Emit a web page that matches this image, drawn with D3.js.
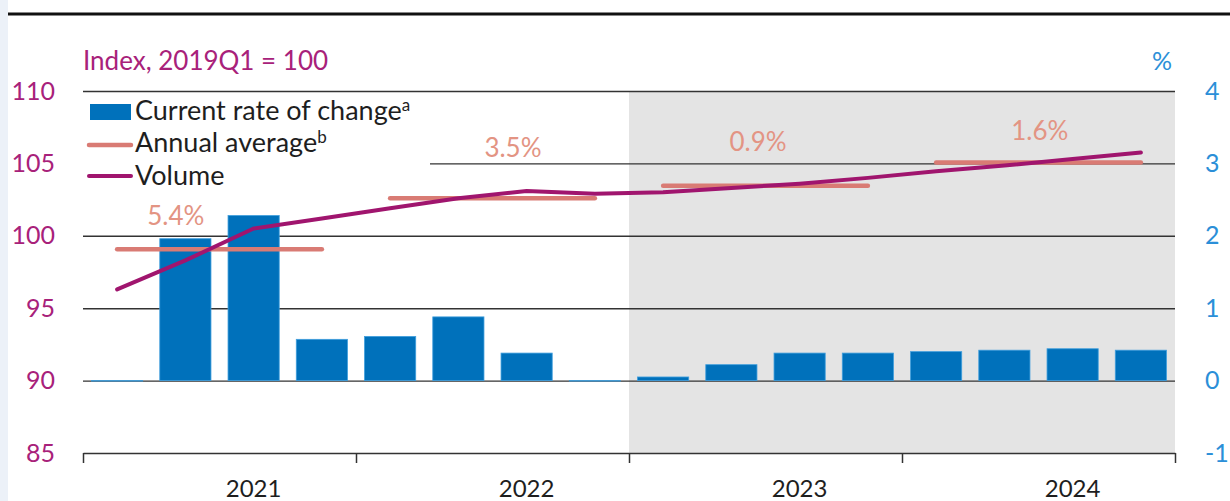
<!DOCTYPE html>
<html>
<head>
<meta charset="utf-8">
<script src="https://cdn.jsdelivr.net/npm/d3@7"></script>
<style>
  html, body { margin: 0; padding: 0; background: #fff; }
  svg { display: block; font-family: Lato, "Open Sans", sans-serif; }
</style>
</head>
<body>
<svg id="chart" width="1230" height="501"></svg>
<script>
// Quarterly series
const quarters = ["2021Q1","2021Q2","2021Q3","2021Q4",
                  "2022Q1","2022Q2","2022Q3","2022Q4",
                  "2023Q1","2023Q2","2023Q3","2023Q4",
                  "2024Q1","2024Q2","2024Q3","2024Q4"];
// Current rate of change, % (right axis)
const growth = [0.0, 1.96, 2.28, 0.57, 0.61, 0.88, 0.38, 0.0,
                0.05, 0.22, 0.38, 0.38, 0.40, 0.42, 0.44, 0.42];
// Volume index, 2019Q1 = 100 (left axis)
const volume = [96.3, 98.3, 100.5, 101.2, 101.9, 102.6, 103.1, 102.9,
                103.0, 103.3, 103.6, 104.0, 104.45, 104.85, 105.3, 105.75];

// Annual figures
const years = ["2021","2022","2023","2024"];
const annualAverage = [99.07, 102.6, 103.45, 105.06];
const annualGrowthLabels = ["5.4%","3.5%","0.9%","1.6%"];

// Axis ticks
const leftTicks = [85, 90, 95, 100, 105, 110];
const rightTicks = [-1, 0, 1, 2, 3, 4];
const forecastFrom = "2023Q1";

// Where each annual growth label sits: [quarter position, index level]
const growthLabelAnchor = [[1.36, 100.75], [6.3, 105.45], [9.89, 105.85], [14.02, 106.6]];

const C = {
  bar: "#0071bb", barEdge: "#3f9edd",
  volume: "#a0156e", avg: "#d97b74", avgText: "#e39483",
  left: "#a8217a", right: "#2b8fd8", grid: "#333333",
  shade: "#e4e4e4", text: "#1e1e1e"
};

const svg = d3.select("#chart");
const X0 = 83, X1 = 1175, YT = 91, YB = 453;

const xBand = d3.scaleBand().domain(quarters).range([X0, X1])
  .paddingInner(0.25).paddingOuter(0.125);
const xQ = d3.scaleLinear().domain([0, quarters.length]).range([X0, X1]);
const xMid = q => xBand(q) + xBand.bandwidth() / 2;
const yL = d3.scaleLinear().domain([85, 110]).range([YB, YT]);
const yR = d3.scaleLinear().domain([-1, 4]).range([YB, YT]);

// page furniture: left strip and top rule
svg.append("rect").attr("x", 0).attr("y", 0).attr("width", 8).attr("height", 501).attr("fill", "#ecf1f8");
svg.append("line").attr("x1", 8).attr("x2", 1230).attr("y1", 14).attr("y2", 14)
  .attr("stroke", "#111").attr("stroke-width", 3);

// forecast shading
const fi = quarters.indexOf(forecastFrom);
svg.append("rect")
  .attr("x", xQ(fi)).attr("y", yL(110))
  .attr("width", xQ(quarters.length) - xQ(fi))
  .attr("height", yL(85) - yL(110))
  .attr("fill", C.shade);

// gridlines
svg.append("g").attr("transform", `translate(${X0},0)`)
  .call(d3.axisLeft(yL).tickValues(leftTicks.filter(v => v > 85)).tickSize(-(X1 - X0)).tickFormat(""))
  .call(g => g.select(".domain").remove())
  .selectAll("line").attr("stroke", C.grid).attr("stroke-width", 1.4);

// legend backing
svg.append("rect").attr("x", X0).attr("y", 95).attr("width", 347).attr("height", 100).attr("fill", "#fff");

// x axis
svg.append("g").attr("transform", `translate(0,${YB})`)
  .call(d3.axisBottom(xQ).tickValues(d3.range(0, quarters.length + 1, 4)).tickSize(10).tickSizeOuter(0).tickFormat(""))
  .call(g => g.selectAll("path,line").attr("stroke", C.grid).attr("stroke-width", 1.5));

svg.append("g").selectAll("text").data(years).join("text")
  .attr("x", (d, i) => xQ(i * 4 + 2.5)).attr("y", 497)
  .attr("text-anchor", "middle").attr("font-size", 24).attr("fill", C.text)
  .text(d => d);

// left axis labels
svg.append("g").attr("transform", `translate(${X0},0)`)
  .call(d3.axisLeft(yL).tickValues(leftTicks).tickSize(0).tickPadding(28).tickFormat(d => String(d)))
  .call(g => g.select(".domain").remove())
  .call(g => g.attr("font-family", null).attr("font-size", 25))
  .selectAll("text").attr("fill", C.left);

// right axis labels
svg.append("g").attr("transform", `translate(${X1},0)`)
  .call(d3.axisRight(yR).tickValues(rightTicks).tickSize(0).tickPadding(30).tickFormat(d => String(d)))
  .call(g => g.select(".domain").remove())
  .call(g => g.attr("font-family", null).attr("font-size", 25))
  .selectAll("text").attr("fill", C.right);

svg.append("text").attr("x", X0).attr("y", 70).attr("font-size", 26).attr("fill", C.left)
  .text("Index, 2019Q1 = 100");
svg.append("text").attr("x", 1172).attr("y", 70).attr("text-anchor", "end")
  .attr("font-size", 25).attr("fill", C.right).text("%");

// bars: current rate of change
svg.append("g").selectAll("rect").data(growth).join("rect")
  .attr("x", (d, i) => xBand(quarters[i]))
  .attr("width", xBand.bandwidth())
  .attr("y", d => yR(Math.max(d, 0)))
  .attr("height", d => Math.max(0.5, Math.abs(yR(d) - yR(0))))
  .attr("fill", C.bar).attr("stroke", C.barEdge).attr("stroke-width", 0.8);

// annual averages
svg.append("g").selectAll("line").data(annualAverage).join("line")
  .attr("x1", (d, i) => xMid(quarters[i * 4]))
  .attr("x2", (d, i) => xMid(quarters[i * 4 + 3]))
  .attr("y1", d => yL(d)).attr("y2", d => yL(d))
  .attr("stroke", C.avg).attr("stroke-width", 4.5).attr("stroke-linecap", "round");

// volume
svg.append("path").datum(volume)
  .attr("d", d3.line().x((d, i) => xMid(quarters[i])).y(d => yL(d)))
  .attr("fill", "none").attr("stroke", C.volume).attr("stroke-width", 4)
  .attr("stroke-linecap", "round").attr("stroke-linejoin", "round");

// annual growth labels
svg.append("g").selectAll("text").data(annualGrowthLabels).join("text")
  .attr("x", (d, i) => xQ(growthLabelAnchor[i][0]))
  .attr("y", (d, i) => yL(growthLabelAnchor[i][1]))
  .attr("text-anchor", "middle").attr("font-size", 26).attr("fill", C.avgText)
  .text(d => d);

// legend
const lg = svg.append("g");
lg.append("rect").attr("x", 90).attr("y", 104).attr("width", 41).attr("height", 16).attr("fill", C.bar);
lg.append("line").attr("x1", 89).attr("x2", 131).attr("y1", 145).attr("y2", 145)
  .attr("stroke", C.avg).attr("stroke-width", 4.5).attr("stroke-linecap", "round");
lg.append("line").attr("x1", 89).attr("x2", 131).attr("y1", 176).attr("y2", 176)
  .attr("stroke", C.volume).attr("stroke-width", 4).attr("stroke-linecap", "round");
const legendItems = [["Current rate of change", "a", 119.5], ["Annual average", "b", 152], ["Volume", "", 184.5]];
legendItems.forEach(([label, note, y]) => {
  const t = lg.append("text").attr("x", 135).attr("y", y).attr("font-size", 27).attr("fill", C.text);
  t.append("tspan").text(label);
  if (note) t.append("tspan").attr("dy", -9).attr("font-size", 17).text(note);
});
</script>
</body>
</html>
